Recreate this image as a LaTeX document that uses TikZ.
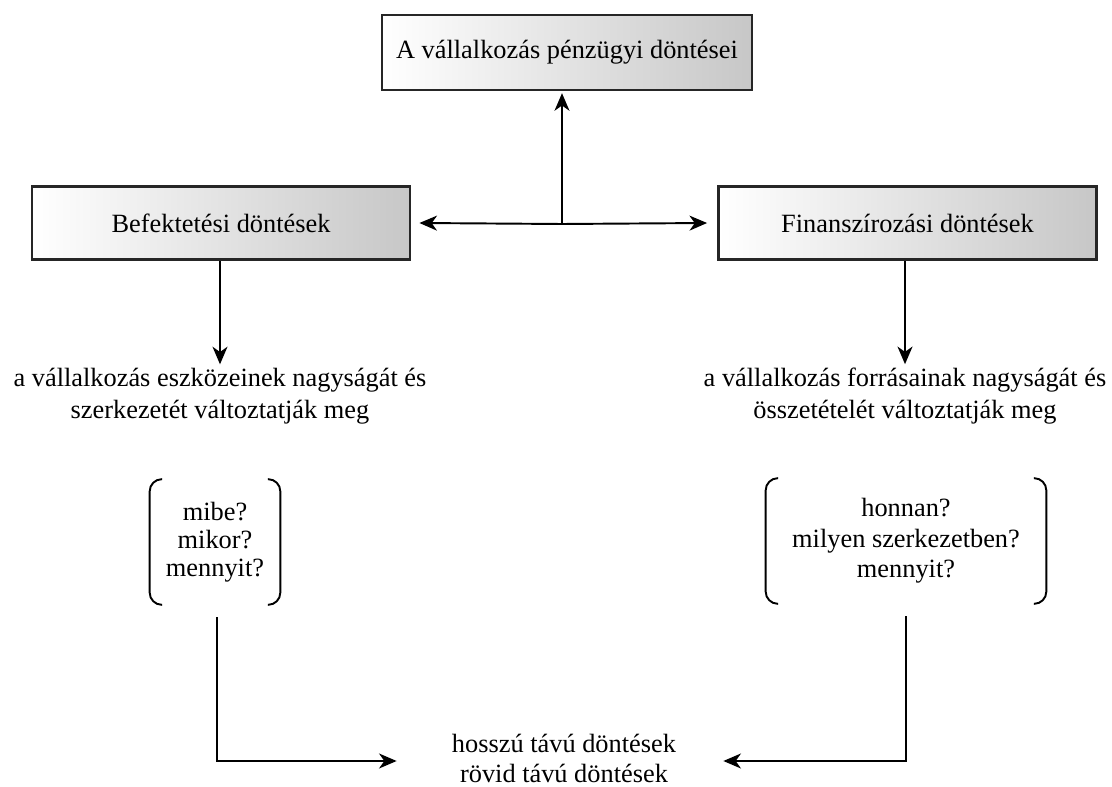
\documentclass[tikz,border=0pt]{standalone}
\usepackage{fontspec}
\setmainfont{Liberation Serif}
\usetikzlibrary{arrows.meta,calc}

\begin{document}
\begin{tikzpicture}[
  every node/.style={font=\fontsize{15}{18}\selectfont},
  conn/.style={-{Stealth[length=10pt,width=8.5pt,inset=3pt]}, line width=1.1pt},
  decbox/.style={draw=black!85, line width=1.6pt, left color=white,
    right color=black!22, minimum width=7.56cm, minimum height=1.47cm,
    inner sep=0pt},
  note/.style={align=center, inner sep=0pt},
  qgroup/.style={align=center, minimum height=2.5cm, inner sep=0pt},
  paren/.style={line width=1.1pt, rounded corners=7pt},
]
\useasboundingbox (0,0) rectangle (22.24,15.72);

% Boxes
\node[decbox, minimum width=7.4cm, minimum height=1.5cm] (top) at (11.34,14.67)
  {A vállalkozás pénzügyi döntései};
\node[decbox] (invest) at (4.42,11.26) {Befektetési döntések};
\node[decbox] (finance) at (18.15,11.26) {Finanszírozási döntések};

% Junction
\coordinate (junc) at (11.24,11.24);
\draw[conn, shorten >=1pt] (junc) -- (top.south -| junc);
\draw[conn] (junc) -- ([xshift=0.16cm]invest.east);
\draw[conn] (junc) -- ([xshift=-0.2cm]finance.west);

% Effects
\node[note] (itext) at (4.4,7.8)
  {a vállalkozás eszközeinek nagyságát és\\ szerkezetét változtatják meg};
\node[note] (ftext) at (18.1,7.8)
  {a vállalkozás forrásainak nagyságát és\\ összetételét változtatják meg};
\draw[conn] (invest.south -| itext) -- ([yshift=2pt]itext.north);
\draw[conn] (finance.south -| ftext) -- ([yshift=2pt]ftext.north);

% Questions
\node[qgroup, minimum width=2.6cm, font=\fontsize{15}{16}\selectfont] (iq)
  at (4.3,4.88) {mibe?\\ mikor?\\ mennyit?};
\node[qgroup, minimum width=5.6cm, font=\fontsize{15}{17.3}\selectfont] (fq)
  at (18.12,4.9) {honnan?\\ milyen szerkezetben?\\ mennyit?};
\foreach \q in {iq,fq} {
  \draw[paren] ($(\q.north west)+(0.25,0)$) -- (\q.north west)
    -- (\q.south west) -- ($(\q.south west)+(0.25,0)$);
  \draw[paren] ($(\q.north east)+(-0.25,0)$) -- (\q.north east)
    -- (\q.south east) -- ($(\q.south east)+(-0.25,0)$);
}

% Term
\node[note, font=\fontsize{15}{17.3}\selectfont] (term) at (11.28,0.55)
  {hosszú távú döntések\\ rövid távú döntések};
\draw[conn] ($(iq.south)+(0.04,-0.25)$) |- ([xshift=-1.1cm,yshift=-0.05cm]term.west);
\draw[conn] ($(fq.south)+(0,-0.25)$) |- ([xshift=0.94cm,yshift=-0.05cm]term.east);

\end{tikzpicture}
\end{document}
